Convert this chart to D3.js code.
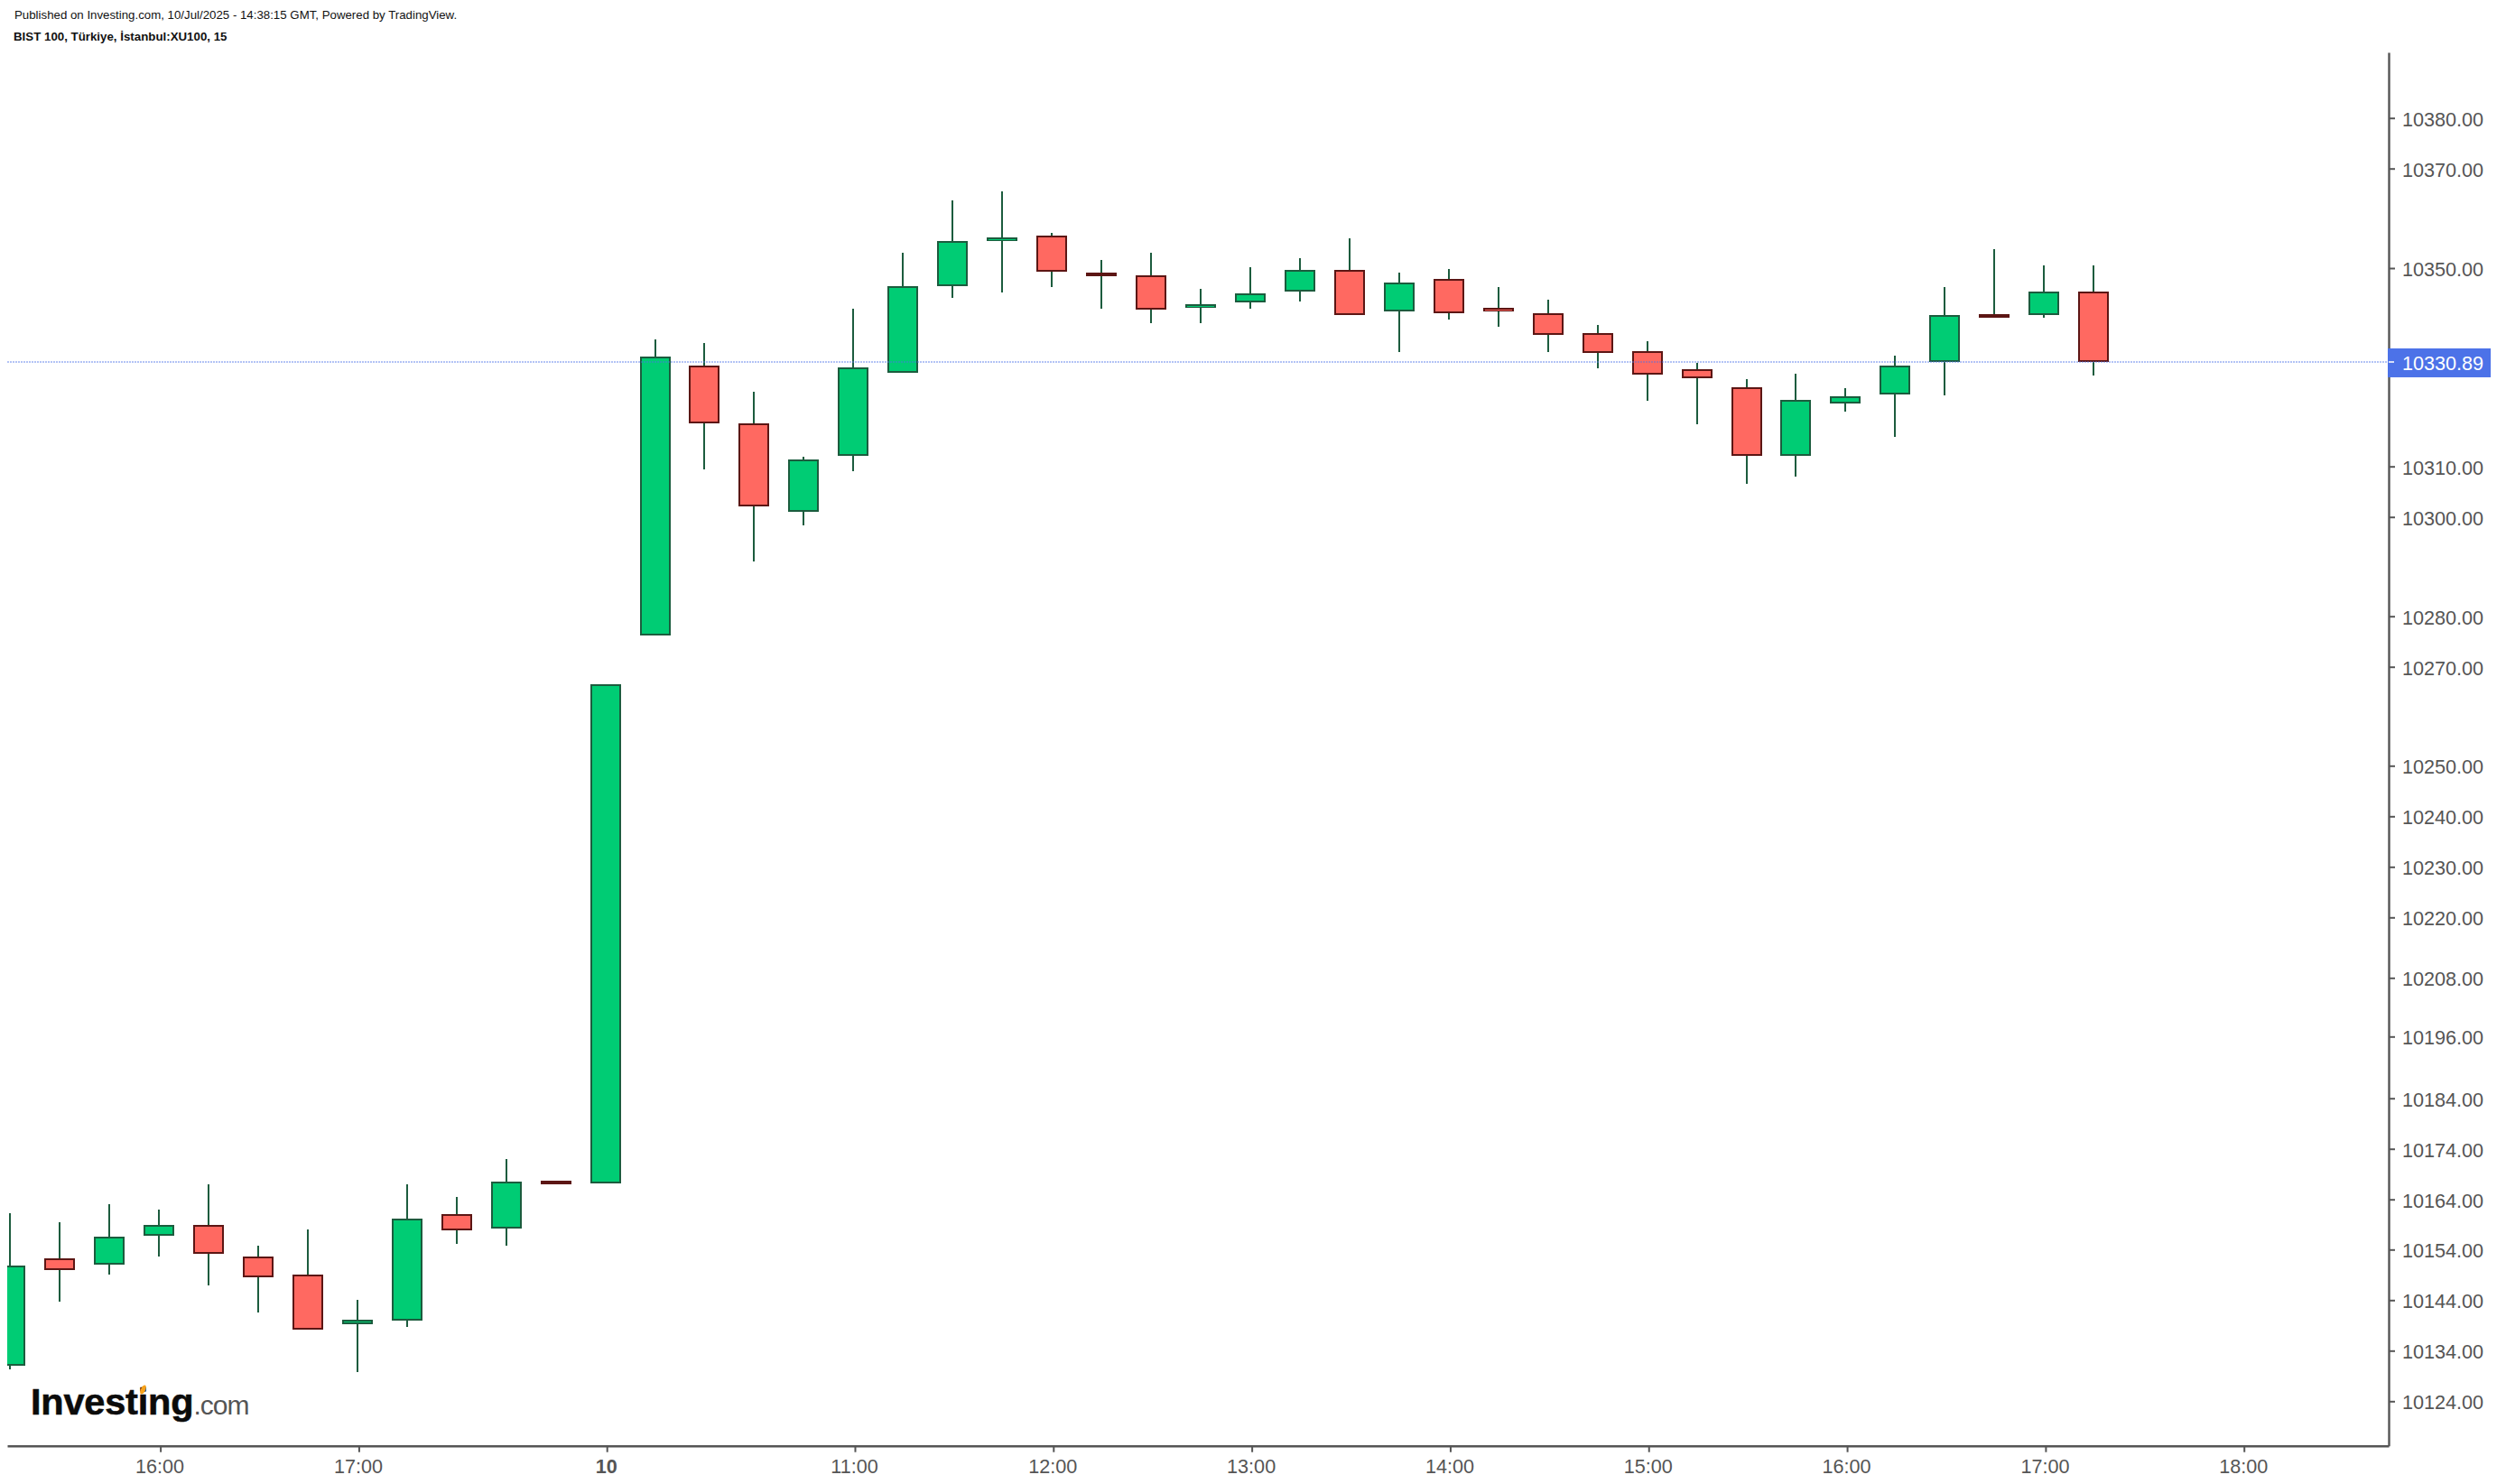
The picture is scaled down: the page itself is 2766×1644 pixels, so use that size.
<!DOCTYPE html>
<html><head><meta charset="utf-8">
<script src="https://cdn.jsdelivr.net/npm/d3@7"></script>
<style>html,body{margin:0;padding:0;background:#fff}svg{display:block}</style></head>
<body><div id="chart"></div>
<script>
const publishedLine = "Published on Investing.com, 10/Jul/2025 - 14:38:15 GMT, Powered by TradingView.";
const symbolLine = "BIST 100, Türkiye, İstanbul:XU100, 15";
const lastPrice = 10330.89;
const lastPriceLevel = 10331.07; // where the line sits between the neighbouring axis ticks

const opens  = [10131.03,10152.22,10151.03,10156.74,10159.00,10152.58,10149.00,10139.25,10139.96,10161.15,10158.17,10167.70,10167.10,10276.20,10330.40,10318.74,10300.96,10312.07,10328.82,10346.30,10355.38,10356.59,10349.03,10348.60,10341.93,10343.02,10345.21,10349.70,10341.20,10347.88,10342.05,10340.96,10336.95,10333.31,10329.67,10326.03,10312.07,10322.63,10324.45,10331.01,10340.72,10340.47,10345.33];
const highs  = [10161.27,10159.48,10163.06,10161.98,10166.98,10154.84,10158.06,10144.13,10166.98,10164.48,10171.98,10167.70,10266.48,10335.62,10334.89,10325.06,10311.95,10341.81,10353.08,10363.60,10365.41,10357.07,10351.63,10353.08,10345.81,10350.19,10352.00,10355.99,10349.09,10349.82,10346.18,10343.63,10338.53,10335.25,10330.89,10327.61,10328.70,10325.79,10332.34,10346.18,10353.81,10350.55,10350.55];
const lows   = [10130.26,10143.77,10149.13,10152.70,10146.98,10141.63,10138.17,10129.84,10138.77,10155.20,10154.84,10166.98,10167.10,10276.20,10309.41,10291.03,10298.31,10309.05,10328.82,10343.99,10345.08,10346.17,10341.81,10338.89,10338.89,10341.81,10343.27,10340.47,10333.07,10339.62,10338.17,10333.07,10329.79,10323.24,10318.50,10306.55,10307.98,10321.05,10315.96,10324.33,10339.99,10339.99,10328.34];
const closes = [10150.79,10149.96,10156.51,10159.00,10153.17,10148.53,10138.17,10140.14,10160.08,10157.82,10167.58,10166.98,10266.48,10332.22,10318.62,10302.03,10311.46,10330.03,10346.42,10355.50,10356.22,10349.21,10348.42,10341.56,10342.78,10344.97,10349.70,10340.47,10347.15,10340.84,10341.20,10336.47,10332.83,10328.46,10327.73,10312.07,10323.48,10324.21,10330.40,10340.60,10339.99,10345.33,10331.01];

const priceTicks = [10380,10370,10350,10310,10300,10280,10270,10250,10240,10230,10220,10208,10196,10184,10174,10164,10154,10144,10134,10124];
const timeTickBars = [3,7,12,17,21,25,29,33,37,41,45];
const timeTickLabels = ["16:00","17:00","10","11:00","12:00","13:00","14:00","15:00","16:00","17:00","18:00"];
const boldTimeLabels = ["10"];

// axis stops: the published price axis is not perfectly even, so it is mapped stop by stop
const axisPrices = [10393,10380,10370,10350,10310,10300,10280,10270,10250,10240,10230,10220,10208,10196,10184,10174,10164,10154,10144,10134,10124,10115.2];
const axisPixels = [57.9,130.7,186.7,297,516.7,572.7,682.7,738.7,848.3,904.3,960.3,1016.3,1083.3,1148.3,1216.7,1272.7,1328.7,1384.3,1440.3,1496.3,1552.3,1601.7];

const W = 2766, H = 1644;
const plot = {left: 8, right: 2646, top: 58, bottom: 1601.7};
const colors = {
  upFill:"#00cc74", upEdge:"#1c5c3e", downFill:"#ff6961", downEdge:"#5c1614",
  wick:"#1c5c3e", axis:"#555555", price:"#4c72e8"
};
const bodyWidth = 34, edge = 2;

const svg = d3.select("#chart").append("svg").attr("width",W).attr("height",H).attr("viewBox",[0,0,W,H]);
const x = d3.scaleLinear().domain([0,42]).range([11.1,2319.2]);
const y = d3.scaleLinear().domain(axisPrices).range(axisPixels);

const bars = opens.map((o,i)=>({i,o,h:highs[i],l:lows[i],c:closes[i],up:closes[i]>=o}));
const bodyTop = d=>y(Math.max(d.o,d.c));
const outerH = d=>y(Math.min(d.o,d.c))-bodyTop(d);

svg.append("clipPath").attr("id","plotClip").append("rect")
  .attr("x",plot.left).attr("y",plot.top).attr("width",plot.right-plot.left).attr("height",plot.bottom-plot.top);
const g = svg.append("g").attr("clip-path","url(#plotClip)").attr("shape-rendering","crispEdges");

g.selectAll("line.wick").data(bars).join("line").attr("class","wick")
  .attr("x1",d=>x(d.i)).attr("x2",d=>x(d.i))
  .attr("y1",d=>y(d.h)).attr("y2",d=>y(d.l))
  .attr("stroke",colors.wick).attr("stroke-width",edge);

// values are the outer edges of each body: an edge-coloured block with the fill inset inside it
g.selectAll("rect.bodyEdge").data(bars).join("rect").attr("class","bodyEdge")
  .attr("x",d=>x(d.i)-bodyWidth/2).attr("width",bodyWidth)
  .attr("y",bodyTop).attr("height",outerH)
  .attr("fill",d=>d.up?colors.upEdge:colors.downEdge);
g.selectAll("rect.bodyFill").data(bars.filter(d=>outerH(d)>4.3)).join("rect").attr("class","bodyFill")
  .attr("x",d=>x(d.i)-bodyWidth/2+edge).attr("width",bodyWidth-2*edge)
  .attr("y",d=>bodyTop(d)+edge).attr("height",d=>Math.max(1,outerH(d)-2*edge))
  .attr("fill",d=>d.up?colors.upFill:colors.downFill);

// last price line
svg.append("line").attr("x1",plot.left).attr("x2",plot.right)
  .attr("y1",y(lastPriceLevel)).attr("y2",y(lastPriceLevel))
  .attr("stroke",colors.price).attr("stroke-width",2).attr("stroke-dasharray","2 1").attr("opacity",0.42).attr("shape-rendering","crispEdges");

// axes
const axisFont = "'Liberation Sans', Arial, sans-serif";
const yAxis = d3.axisRight(y).tickValues(priceTicks).tickFormat(d3.format(".2f")).tickSize(7).tickPadding(8).tickSizeOuter(0);
const yG = svg.append("g").attr("transform",`translate(${plot.right},0)`).call(yAxis);
const xForAxis = d3.scaleLinear()
  .domain([x.invert(plot.left),x.invert(plot.right)]).range([plot.left,plot.right]);
const xAxis = d3.axisBottom(xForAxis).tickValues(timeTickBars.map(b=>b+0.03)).tickSize(7).tickPadding(8).tickSizeOuter(0)
  .tickFormat((d,i)=>timeTickLabels[i]);
const xG = svg.append("g").attr("transform",`translate(0,${plot.bottom})`).call(xAxis);
for (const a of [yG,xG]) {
  a.select(".domain").attr("stroke",colors.axis).attr("stroke-width",2.4);
  a.selectAll(".tick line").attr("stroke",colors.axis).attr("stroke-width",2);
  a.selectAll("text").attr("fill",colors.axis).style("font-family",axisFont).style("font-size","21.6px");
}
yG.selectAll("text").attr("dy","0.39em");
xG.selectAll("text").attr("font-weight",(d,i)=>boldTimeLabels.includes(timeTickLabels[i])?"700":"400").attr("dx",-1);

// price tag
const tagH = 32;
svg.append("rect").attr("x",plot.right-1).attr("width",114).attr("y",y(lastPriceLevel)-15).attr("height",tagH).attr("fill",colors.price);
svg.append("line").attr("x1",plot.right).attr("x2",plot.right+6).attr("y1",y(lastPriceLevel)).attr("y2",y(lastPriceLevel))
  .attr("stroke","#d6def9").attr("stroke-width",2);
svg.append("text").attr("x",plot.right+15).attr("y",y(lastPriceLevel)).attr("dy","0.42em")
  .attr("fill","#fff").style("font-family",axisFont).style("font-size","21.6px").text(d3.format(".2f")(lastPrice));

// header
svg.append("text").attr("x",16).attr("y",21).style("font-family",axisFont).style("font-size","13.27px").attr("fill","#111").text(publishedLine);
svg.append("text").attr("x",15).attr("y",45).style("font-family",axisFont).style("font-size","13.3px").style("font-weight","700").attr("fill","#111").text(symbolLine);

// logo
const logo = svg.append("text").attr("x",34).attr("y",1567).style("font-family",axisFont);
logo.append("tspan").style("font-size","41.5px").style("font-weight","700").attr("fill","#0b0b0b").attr("stroke","#0b0b0b").attr("stroke-width",0.6).attr("letter-spacing","-0.2").text("Investing");
logo.append("tspan").style("font-size","30px").style("font-weight","400").attr("fill","#555").attr("letter-spacing","-1").text(".com");
svg.append("ellipse").attr("cx",158.5).attr("cy",1539.5).attr("rx",2.6).attr("ry",5.5)
  .attr("transform","rotate(25 158.5 1539.5)").attr("fill","#f7a11a");
</script></body></html>
